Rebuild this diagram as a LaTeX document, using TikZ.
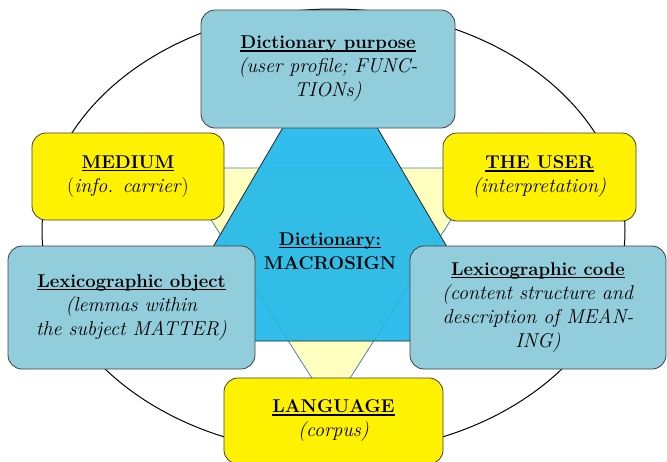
\documentclass[tikz,border=0pt]{standalone}
\definecolor{boxblue}{RGB}{146,205,220}
\definecolor{signblue}{RGB}{33,184,235}
\definecolor{paleyellow}{RGB}{255,255,192}
\definecolor{edgeblue}{RGB}{74,126,187}
\newcommand\boldtext[1]{{\fontsize{18.5}{24}\selectfont\bfseries #1}}
\newcommand\headtext[1]{\setbox0=\hbox{\boldtext{#1}}\rlap{\rule[-3pt]{\wd0}{1.5pt}}\box0}

\begin{document}
\begin{tikzpicture}[x=1pt, y=-1pt,
	box/.style={draw=black!75, line width=0.8pt, rounded corners=14pt, align=center, inner sep=0pt, font=\fontsize{20}{24}\selectfont},
	bluebox/.style={box, fill=boxblue},
	yellowbox/.style={box, fill=yellow}]
			\clip (0, 0) rectangle (667, 461);
			\draw[line width=1pt] (333.5, 231) ellipse [x radius=291.5pt, y radius=222pt];
			\draw[fill=paleyellow, draw=edgeblue, line width=0.8pt] (178, 168) -- (484, 168) -- (331, 408) -- cycle;
			\draw[fill=signblue, fill opacity=0.92, draw=black!85, line width=0.8pt] (330, 47) -- (502, 341) -- (158, 341) -- cycle;
			\node[align=center, font=\fontsize{20}{24}\selectfont] (sign) at (330, 251) {\headtext{Dictionary:}\\\boldtext{MACROSIGN}};
			\node[bluebox, minimum width=254pt, minimum height=118pt] (purpose) at (328, 69) {\headtext{Dictionary purpose}\\\textit{(user profile; FUNC-}\\\textit{TIONs)}};
			\node[yellowbox, minimum width=192pt, minimum height=87pt] (medium) at (128, 176.5) {\headtext{MEDIUM}\\(\textit{info. carrier})};
			\node[yellowbox, minimum width=193pt, minimum height=88pt] (user) at (539.5, 177) {\headtext{THE USER}\\\textit{(interpretation)}};
			\node[bluebox, minimum width=247pt, minimum height=123pt] (object) at (131.5, 307.5) {\headtext{Lexicographic object}\\\textit{(lemmas within}\\\textit{the subject MATTER)}};
			\node[bluebox, minimum width=256pt, minimum height=123pt] (code) at (538, 307.5) {\headtext{Lexicographic code}\\\textit{(content structure and}\\\textit{description of MEAN-}\\\textit{ING)}};
			\node[yellowbox, minimum width=219pt, minimum height=86pt] (language) at (333.5, 421) {\headtext{LANGUAGE}\\\textit{(corpus)}};
		\end{tikzpicture}
\end{document}
